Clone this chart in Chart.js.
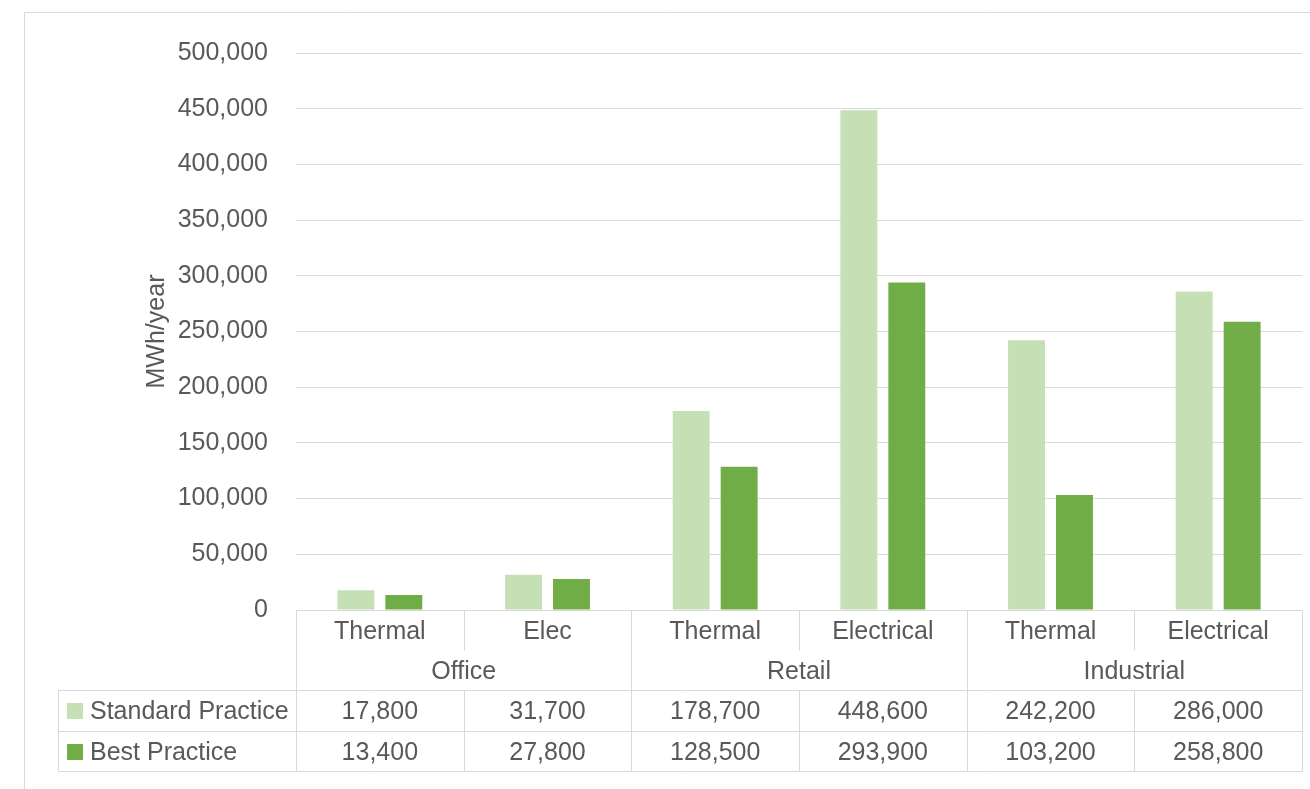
<!DOCTYPE html>
<html>
<head>
<meta charset="utf-8">
<script src="https://cdn.jsdelivr.net/npm/chart.js"></script>
<style>
  body { margin: 0; background: #fff; }
  #wrap { width: 1310px; height: 789px; }
</style>
</head>
<body>
<div id="wrap"><canvas id="energyChart" width="1310" height="789"></canvas></div>
<script>
// chart data
const categories = ['Thermal', 'Elec', 'Thermal', 'Electrical', 'Thermal', 'Electrical'];
const groups = ['Office', 'Retail', 'Industrial'];
const seriesNames = ['Standard Practice', 'Best Practice'];
const standardPractice = [17800, 31700, 178700, 448600, 242200, 286000];
const bestPractice = [13400, 27800, 128500, 293900, 103200, 258800];
const yTicks = [0, 50000, 100000, 150000, 200000, 250000, 300000, 350000, 400000, 450000, 500000];

const colors = ['#C5E0B4', '#70AD47'];
const textColor = '#595959';
const lineColor = '#d9d9d9';
const fontFamily = "'Liberation Sans', Arial, sans-serif";
const fontSize = 25;

Chart.defaults.font.family = fontFamily;
Chart.defaults.font.size = fontSize;
Chart.defaults.color = textColor;

const fmt = v => v.toLocaleString('en-US');

// outer frame like the Excel chart area
const framePlugin = {
  id: 'frame',
  beforeDraw(chart) {
    const c = chart.ctx;
    c.save();
    c.strokeStyle = lineColor;
    c.lineWidth = 1;
    c.beginPath();
    c.moveTo(24.5, chart.height);
    c.lineTo(24.5, 12.5);
    c.lineTo(chart.width, 12.5);
    c.stroke();
    c.restore();
  }
};

// Excel style data table under the plot
const dataTablePlugin = {
  id: 'dataTable',
  afterDraw(chart) {
    const c = chart.ctx;
    const x = chart.scales.x;
    const area = chart.chartArea;
    const colW = (area.right - area.left) / categories.length;
    const y0 = area.bottom;
    const yCat = y0 + 40;
    const yGrp = y0 + 80;
    const yRow1 = y0 + 120.5;
    const yRow2 = y0 + 161;
    const legendLeft = 58;
    const dy = 2; // text sits a little low in the cells

    c.save();
    c.strokeStyle = lineColor;
    c.lineWidth = 1;
    const line = (x1, y1, x2, y2) => {
      c.beginPath();
      c.moveTo(Math.round(x1) + 0.5, Math.round(y1) + 0.5);
      c.lineTo(Math.round(x2) + 0.5, Math.round(y2) + 0.5);
      c.stroke();
    };

    // horizontal lines
    line(area.left, y0, area.right, y0);
    line(legendLeft, yGrp, area.right, yGrp);
    line(legendLeft, yRow1, area.right, yRow1);
    line(legendLeft, yRow2, area.right, yRow2);
    line(legendLeft, yGrp, legendLeft, yRow2);

    // vertical lines
    for (let i = 0; i <= categories.length; i++) {
      const xb = x.getPixelForValue(i) - colW / 2;
      if (i % 2 === 0) {
        line(xb, y0, xb, yRow2);
      } else {
        line(xb, y0, xb, yCat);
        line(xb, yGrp, xb, yRow2);
      }
    }

    c.fillStyle = textColor;
    c.font = fontSize + 'px ' + fontFamily;
    c.textAlign = 'center';
    c.textBaseline = 'middle';

    categories.forEach((cat, i) => {
      const cx = x.getPixelForValue(i);
      c.fillText(cat, cx, (y0 + yCat) / 2 + dy);
      c.fillText(fmt(standardPractice[i]), cx, (yGrp + yRow1) / 2 + dy);
      c.fillText(fmt(bestPractice[i]), cx, (yRow1 + yRow2) / 2 + dy);
    });
    groups.forEach((g, i) => {
      const cx = (x.getPixelForValue(i * 2) + x.getPixelForValue(i * 2 + 1)) / 2;
      c.fillText(g, cx, (yCat + yGrp) / 2 + dy);
    });

    // legend keys in the first column
    c.textAlign = 'left';
    [[yGrp, yRow1], [yRow1, yRow2]].forEach(([a, b], i) => {
      const cy = (a + b) / 2;
      c.fillStyle = colors[i];
      c.fillRect(67, Math.round(cy - 7), 16, 16);
      c.fillStyle = textColor;
      c.fillText(seriesNames[i], 90, cy + dy);
    });
    c.restore();
  }
};

new Chart(document.getElementById('energyChart'), {
  type: 'bar',
  data: {
    labels: categories,
    datasets: [
      {
        label: seriesNames[0],
        data: standardPractice,
        backgroundColor: colors[0],
        categoryPercentage: 0.572,
        barPercentage: 0.77
      },
      {
        label: seriesNames[1],
        data: bestPractice,
        backgroundColor: colors[1],
        categoryPercentage: 0.572,
        barPercentage: 0.77
      }
    ]
  },
  options: {
    responsive: false,
    animation: false,
    layout: { padding: { top: 53, right: 8, bottom: 179, left: 0 } },
    plugins: {
      legend: { display: false },
      tooltip: { enabled: false }
    },
    scales: {
      x: { display: false },
      y: {
        min: 0,
        max: 500000,
        afterFit(scale) { scale.width = 296; },
        afterBuildTicks(scale) { scale.ticks = yTicks.map(v => ({ value: v })); },
        border: { display: false },
        grid: { color: lineColor, lineWidth: 1, drawTicks: false },
        ticks: { padding: 28, color: textColor, callback: v => fmt(v) },
        title: {
          display: true,
          text: 'MWh/year',
          color: textColor,
          padding: { top: 142, bottom: 0 }
        }
      }
    }
  },
  plugins: [framePlugin, dataTablePlugin]
});
</script>
</body>
</html>
